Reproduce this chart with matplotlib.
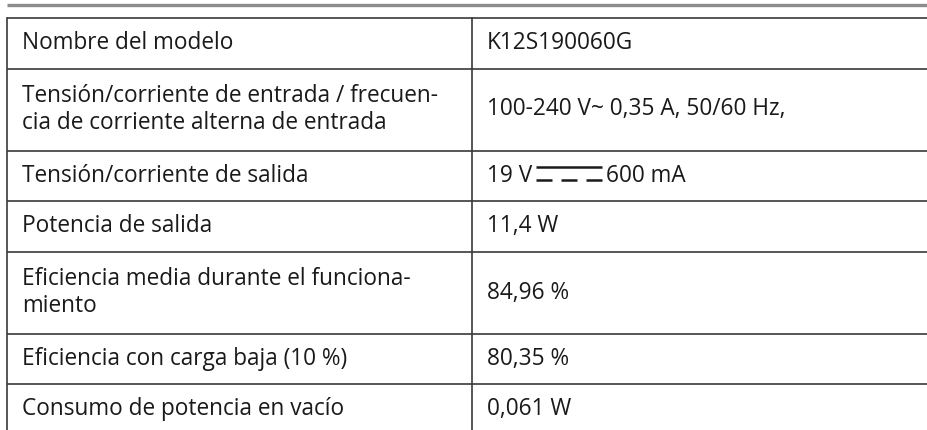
"""Technical data table (power adapter), drawn as a matplotlib figure."""

import matplotlib

matplotlib.use("Agg")
import matplotlib.pyplot as plt

labels = [
    "Nombre del modelo",
    "Tensión/corriente de entrada / frecuen-\ncia de corriente alterna de entrada",
    "Tensión/corriente de salida",
    "Potencia de salida",
    "Eficiencia media durante el funciona-\nmiento",
    "Eficiencia con carga baja (10 %)",
    "Consumo de potencia en vacío",
]
values = [
    "K12S190060G",
    "100-240 V~ 0,35 A, 50/60 Hz,",
    ("19 V", "600 mA"),  # DC symbol drawn between the two parts
    "11,4 W",
    "84,96 %",
    "80,35 %",
    "0,061 W",
]

W, H = 928, 430
TOP = 18
X_LEFT, X_MID, X_RIGHT = 7, 472, 935
ROW_H1, ROW_H2 = 50.5, 82
LINE_C = "#3a3a3a"
TEXT_C = "#1a1a1a"
FS = 16.3

plt.rcParams["font.family"] = ["Open Sans", "DejaVu Sans"]

fig = plt.figure(figsize=(W / 100, H / 100), dpi=100)
ax = fig.add_axes([0, 0, 1, 1])
ax.set_xlim(0, W)
ax.set_ylim(H, 0)
ax.axis("off")

# gray rule above the table
ax.plot([X_LEFT, W], [5, 5], color="#8c8c8c", lw=2.4, solid_capstyle="butt")

y = TOP
bounds = [y]
for lab in labels:
    y += ROW_H2 if "\n" in lab else ROW_H1
    bounds.append(y)

for yb in bounds:
    ax.plot([X_LEFT, X_RIGHT], [yb, yb], color=LINE_C, lw=1.2, solid_capstyle="butt")
ax.plot([X_LEFT, X_LEFT], [TOP, H + 5], color=LINE_C, lw=1.2)
ax.plot([X_MID, X_MID], [TOP, H + 5], color=LINE_C, lw=1.2)

fig.canvas.draw()
renderer = fig.canvas.get_renderer()

for i, (lab, val) in enumerate(zip(labels, values)):
    yc = (bounds[i] + bounds[i + 1]) / 2
    ax.text(22, yc, lab, fontsize=FS, color=TEXT_C, va="center", ha="left",
            linespacing=1.15)
    if isinstance(val, tuple):
        t1 = ax.text(487, yc, val[0], fontsize=FS, color=TEXT_C, va="center", ha="left")
        bb = t1.get_window_extent(renderer).transformed(ax.transData.inverted())
        x0 = bb.x1 + 4
        dash, gap = 16, 9
        x1 = x0 + 3 * dash + 2 * gap
        ax.plot([x0, x1], [yc - 9, yc - 9], color=TEXT_C, lw=1.8, solid_capstyle="butt")
        for k in range(3):
            xs = x0 + k * (dash + gap)
            ax.plot([xs, xs + dash], [yc + 4, yc + 4], color=TEXT_C, lw=1.8,
                    solid_capstyle="butt")
        ax.text(x1 + 4, yc, val[1], fontsize=FS, color=TEXT_C, va="center", ha="left")
    else:
        ax.text(487, yc, val, fontsize=FS, color=TEXT_C, va="center", ha="left")

fig.savefig("out.png", dpi=100)
